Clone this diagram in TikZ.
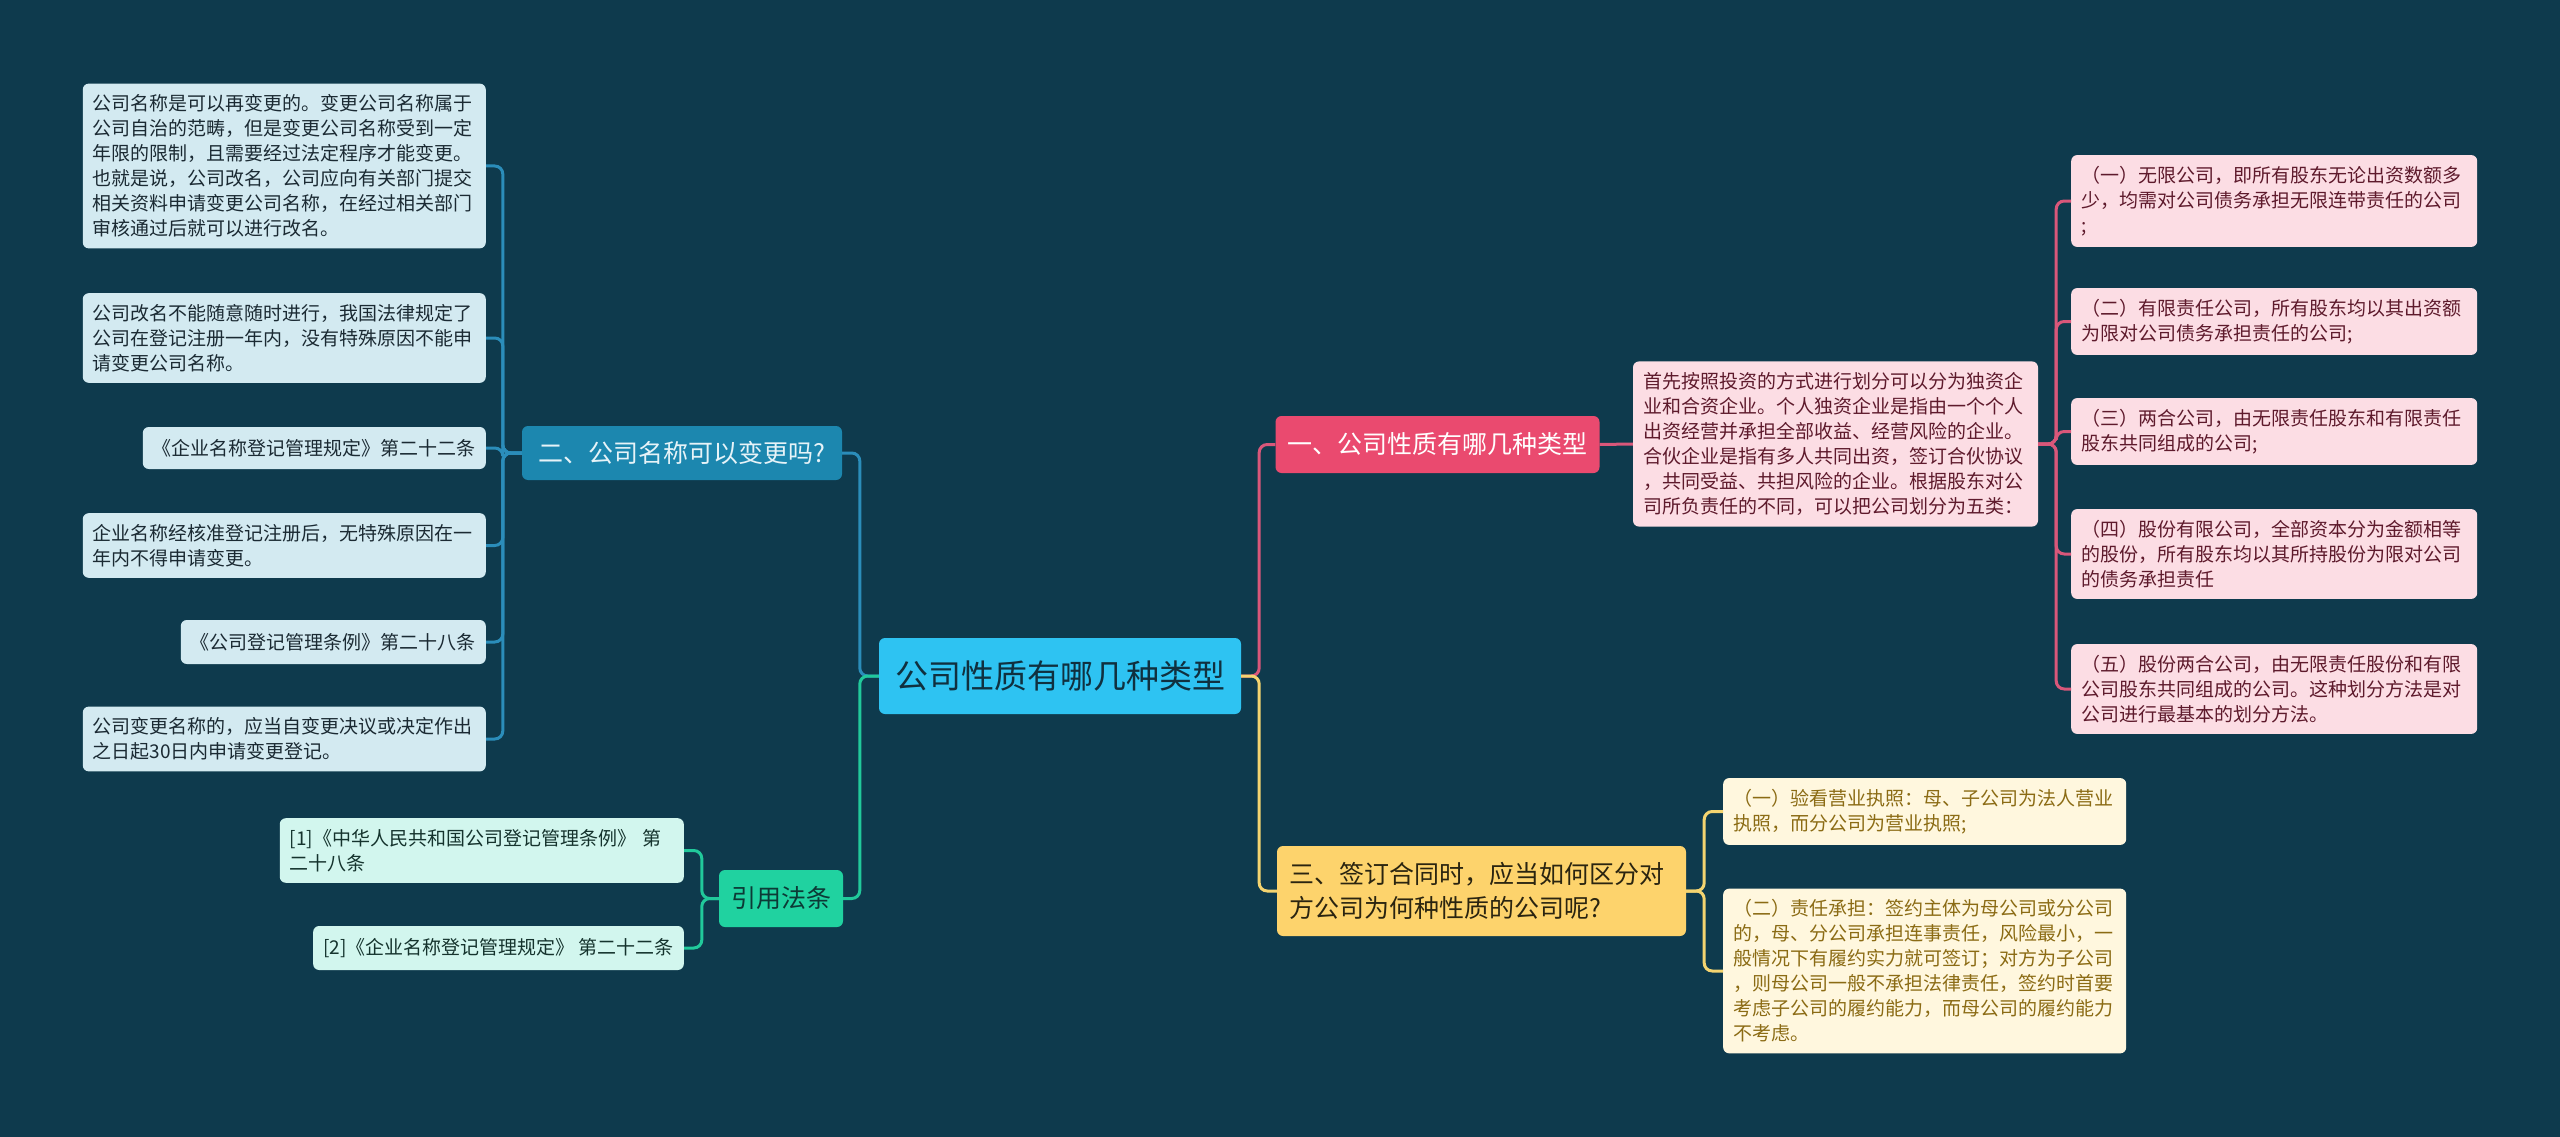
\documentclass[tikz,border=0pt]{standalone}
\usepackage{fontspec}
\setmainfont{Noto Sans CJK SC}
\usetikzlibrary{positioning}
\definecolor{bgteal}{HTML}{0E3A4D}
\definecolor{rootblue}{HTML}{2EC3F2}
\definecolor{roottext}{HTML}{10303F}
\definecolor{pinkmain}{HTML}{EA4A6F}
\definecolor{pinkleaf}{HTML}{FCDDE4}
\definecolor{pinktext}{HTML}{5E1A2C}
\definecolor{pinkline}{HTML}{D9577A}
\definecolor{bluemain}{HTML}{1C87AF}
\definecolor{bluetext}{HTML}{E6F3F8}
\definecolor{blueleaf}{HTML}{D3EAF1}
\definecolor{blueleaftext}{HTML}{1B2A33}
\definecolor{blueline}{HTML}{2B8DBA}
\definecolor{greenmain}{HTML}{20D2A0}
\definecolor{greentext}{HTML}{0C3A36}
\definecolor{greenleaf}{HTML}{D2F6EE}
\definecolor{greenleaftext}{HTML}{15332D}
\definecolor{greenline}{HTML}{21C99B}
\definecolor{yellowmain}{HTML}{FDD36C}
\definecolor{yellowtext}{HTML}{2A2410}
\definecolor{yellowleaf}{HTML}{FFF7DE}
\definecolor{yellowleaftext}{HTML}{8B6B14}
\definecolor{yellowline}{HTML}{F4D470}
\tikzset{
	root/.style={fill=rootblue, text=roottext, rounded corners=6, font=\fontsize{33}{40}\selectfont, minimum width=362, minimum height=76, inner sep=0},
	branch/.style={rounded corners=6, font=\fontsize{25}{34}\selectfont, inner xsep=12, inner ysep=0},
	leaf/.style={rounded corners=6, font=\fontsize{19}{25}\selectfont, inner xsep=10, inner ysep=11, align=left},
	link/.style={line width=3, rounded corners=8},
}

\begin{document}
\begin{tikzpicture}[x=1pt, y=-1pt]
			%%%%% START %%%%%
			\useasboundingbox (0,0) rectangle (2560,1137);
			\fill[bgteal] (0,0) rectangle (2560,1137);
			
			% centre and main branches
			\node[root] (root) at (1060,676) {公司性质有哪几种类型};
			\node[branch, fill=pinkmain, text=white, minimum width=321, minimum height=57] (kinds) at (1437.5,444.5) {一、公司性质有哪几种类型};
			\node[branch, fill=bluemain, text=bluetext, minimum width=320, minimum height=54] (rename) at (682,453) {二、公司名称可以变更吗?};
			\node[branch, fill=greenmain, text=greentext, minimum width=122, minimum height=57] (law) at (781,898.5) {引用法条};
			\node[branch, fill=yellowmain, text=yellowtext, align=left, text width=385, minimum height=90] (contract) at (1481.5,891) {三、签订合同时，应当如何区分对\\方公司为何种性质的公司呢?};
			
			% left leaves
			\node[leaf, fill=blueleaf, text=blueleaftext, text width=383, anchor=east] (rn1) at (486,166) {公司名称是可以再变更的。变更公司名称属于\\公司自治的范畴，但是变更公司名称受到一定\\年限的限制，且需要经过法定程序才能变更。\\也就是说，公司改名，公司应向有关部门提交\\相关资料申请变更公司名称，在经过相关部门\\审核通过后就可以进行改名。};
			\node[leaf, fill=blueleaf, text=blueleaftext, text width=383, anchor=east] (rn2) at (486,338) {公司改名不能随意随时进行，我国法律规定了\\公司在登记注册一年内，没有特殊原因不能申\\请变更公司名称。};
			\node[leaf, fill=blueleaf, text=blueleaftext, minimum height=42, anchor=east] (rn3) at (486,448) {《企业名称登记管理规定》第二十二条};
			\node[leaf, fill=blueleaf, text=blueleaftext, text width=383, anchor=east] (rn4) at (486,545.5) {企业名称经核准登记注册后，无特殊原因在一\\年内不得申请变更。};
			\node[leaf, fill=blueleaf, text=blueleaftext, minimum height=44, anchor=east] (rn5) at (486,642) {《公司登记管理条例》第二十八条};
			\node[leaf, fill=blueleaf, text=blueleaftext, text width=383, anchor=east] (rn6) at (486,739) {公司变更名称的，应当自变更决议或决定作出\\之日起30日内申请变更登记。};
			
			\node[leaf, fill=greenleaf, text=greenleaftext, text width=384, anchor=east] (ref1) at (684,850.5) {[1]《中华人民共和国公司登记管理条例》 第\\二十八条};
			\node[leaf, fill=greenleaf, text=greenleaftext, minimum height=44, anchor=east] (ref2) at (684,948) {[2]《企业名称登记管理规定》 第二十二条};
			
			% right leaves
			\node[leaf, fill=pinkleaf, text=pinktext, text width=385] (split) at (1835.5,444) {首先按照投资的方式进行划分可以分为独资企\\业和合资企业。个人独资企业是指由一个个人\\出资经营并承担全部收益、经营风险的企业。\\合伙企业是指有多人共同出资，签订合伙协议\\，共同受益、共担风险的企业。根据股东对公\\司所负责任的不同，可以把公司划分为五类：};
			\node[leaf, fill=pinkleaf, text=pinktext, text width=386, anchor=west] (kd1) at (2071,201) {（一）无限公司，即所有股东无论出资数额多\\少，均需对公司债务承担无限连带责任的公司\\;};
			\node[leaf, fill=pinkleaf, text=pinktext, text width=386, anchor=west] (kd2) at (2071,321.5) {（二）有限责任公司，所有股东均以其出资额\\为限对公司债务承担责任的公司;};
			\node[leaf, fill=pinkleaf, text=pinktext, text width=386, anchor=west] (kd3) at (2071,431.5) {（三）两合公司，由无限责任股东和有限责任\\股东共同组成的公司;};
			\node[leaf, fill=pinkleaf, text=pinktext, text width=386, anchor=west] (kd4) at (2071,554) {（四）股份有限公司，全部资本分为金额相等\\的股份，所有股东均以其所持股份为限对公司\\的债务承担责任};
			\node[leaf, fill=pinkleaf, text=pinktext, text width=386, anchor=west] (kd5) at (2071,689) {（五）股份两合公司，由无限责任股份和有限\\公司股东共同组成的公司。这种划分方法是对\\公司进行最基本的划分方法。};
			
			\node[leaf, fill=yellowleaf, text=yellowleaftext, text width=383, anchor=west] (ct1) at (1723,811.5) {（一）验看营业执照：母、子公司为法人营业\\执照，而分公司为营业执照;};
			\node[leaf, fill=yellowleaf, text=yellowleaftext, text width=383, anchor=west] (ct2) at (1723,971) {（二）责任承担：签约主体为母公司或分公司\\的，母、分公司承担连事责任，风险最小，一\\般情况下有履约实力就可签订；对方为子公司\\，则母公司一般不承担法律责任，签约时首要\\考虑子公司的履约能力，而母公司的履约能力\\不考虑。};
			
			% connectors
			\draw[link, blueline] (root.west) -- ++(-19,0) |- (rename.east);
			\draw[link, greenline] (root.west) -- ++(-19,0) |- (law.east);
			\draw[link, pinkline] (root.east) -- ++(18,0) |- (kinds.west);
			\draw[link, yellowline] (root.east) -- ++(18,0) |- (contract.west);
			
			\draw[link, blueline] (rename.west) -- ++(-19,0) |- (rn1.east);
			\draw[link, blueline] (rename.west) -- ++(-19,0) |- (rn2.east);
			\draw[link, blueline] (rename.west) -- ++(-19,0) |- (rn3.east);
			\draw[link, blueline] (rename.west) -- ++(-19,0) |- (rn4.east);
			\draw[link, blueline] (rename.west) -- ++(-19,0) |- (rn5.east);
			\draw[link, blueline] (rename.west) -- ++(-19,0) |- (rn6.east);
			
			\draw[link, greenline] (law.west) -- ++(-17,0) |- (ref1.east);
			\draw[link, greenline] (law.west) -- ++(-17,0) |- (ref2.east);
			
			\draw[link, pinkline] (kinds.east) -- (split.west);
			\draw[link, pinkline] (split.east) -- ++(18,0) |- (kd1.west);
			\draw[link, pinkline] (split.east) -- ++(18,0) |- (kd2.west);
			\draw[link, pinkline] (split.east) -- ++(18,0) |- (kd3.west);
			\draw[link, pinkline] (split.east) -- ++(18,0) |- (kd4.west);
			\draw[link, pinkline] (split.east) -- ++(18,0) |- (kd5.west);
			
			\draw[link, yellowline] (contract.east) -- ++(18,0) |- (ct1.west);
			\draw[link, yellowline] (contract.east) -- ++(18,0) |- (ct2.west);
			%%%%% END %%%%%
\end{tikzpicture}
\end{document}
